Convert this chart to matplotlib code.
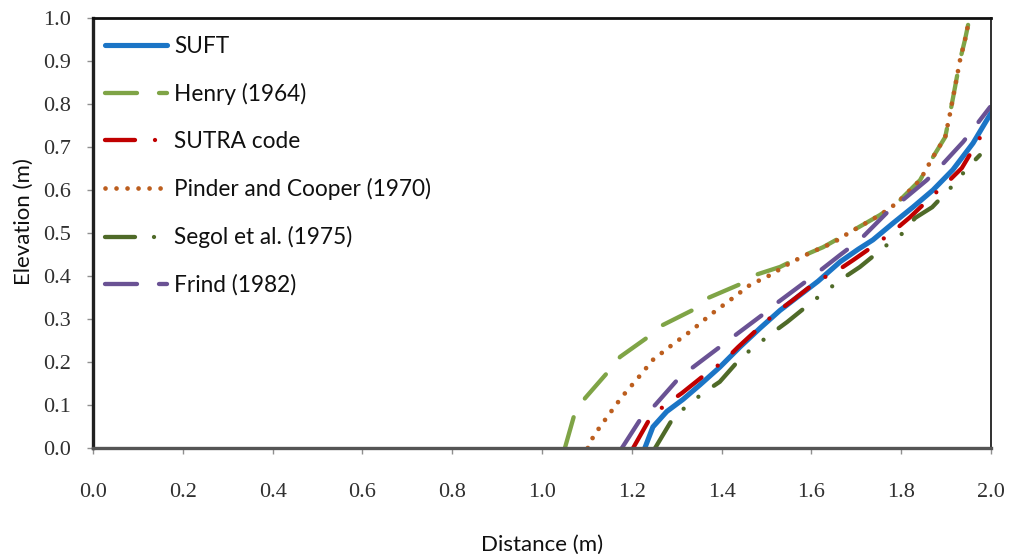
import matplotlib
matplotlib.use("Agg")
import matplotlib.pyplot as plt

# ---------------- data ----------------
suft_x = [1.229, 1.247, 1.278, 1.314, 1.352, 1.396, 1.441, 1.486, 1.530, 1.575, 1.615, 1.664,
          1.704, 1.737, 1.782, 1.826, 1.871, 1.915, 1.960, 2.000]
suft_y = [0.000, 0.049, 0.085, 0.113, 0.147, 0.188, 0.235, 0.279, 0.320, 0.356, 0.388, 0.433,
          0.462, 0.484, 0.523, 0.560, 0.600, 0.647, 0.709, 0.779]

henry_x = [1.051, 1.073, 1.096, 1.147, 1.174, 1.236, 1.269, 1.336, 1.370, 1.437, 1.474, 1.530,
           1.575, 1.626, 1.686, 1.753, 1.791, 1.842, 1.871, 1.898, 1.909, 1.920, 1.931, 1.942, 1.949]
henry_y = [0.000, 0.081, 0.116, 0.177, 0.212, 0.258, 0.286, 0.321, 0.349, 0.379, 0.402, 0.421,
           0.444, 0.467, 0.502, 0.542, 0.570, 0.623, 0.677, 0.723, 0.779, 0.840, 0.902, 0.949, 0.984]

sutra_x = [1.203, 1.241, 1.274, 1.312, 1.367, 1.403, 1.437, 1.490, 1.523, 1.559, 1.615, 1.653,
           1.693, 1.748, 1.786, 1.820, 1.871, 1.904, 1.935, 1.975]
sutra_y = [0.000, 0.070, 0.100, 0.128, 0.174, 0.200, 0.235, 0.286, 0.316, 0.344, 0.390, 0.409,
           0.437, 0.477, 0.507, 0.537, 0.588, 0.619, 0.651, 0.721]

pinder_x = [1.102, 1.114, 1.129, 1.145, 1.178, 1.214, 1.247, 1.290, 1.334, 1.374, 1.419, 1.463,
            1.508, 1.552, 1.601, 1.648, 1.686, 1.753, 1.791, 1.842, 1.871, 1.898, 1.909, 1.920,
            1.931, 1.942, 1.949]
pinder_y = [0.000, 0.026, 0.049, 0.072, 0.119, 0.163, 0.205, 0.240, 0.274, 0.309, 0.344, 0.379,
            0.402, 0.430, 0.456, 0.477, 0.502, 0.542, 0.570, 0.623, 0.677, 0.723, 0.779, 0.840,
            0.902, 0.949, 0.984]

segol_x = [1.252, 1.292, 1.325, 1.359, 1.396, 1.445, 1.479, 1.512, 1.546, 1.604, 1.641, 1.675,
           1.708, 1.768, 1.804, 1.831, 1.869, 1.920, 1.947, 1.975]
segol_y = [0.000, 0.070, 0.100, 0.128, 0.154, 0.212, 0.240, 0.267, 0.293, 0.342, 0.372, 0.398,
           0.421, 0.472, 0.500, 0.535, 0.560, 0.616, 0.651, 0.681]

frind_x = [1.178, 1.218, 1.252, 1.301, 1.334, 1.396, 1.425, 1.490, 1.523, 1.586, 1.615, 1.664,
           1.708, 1.768, 1.804, 1.857, 1.886, 1.938, 1.964, 1.998]
frind_y = [0.000, 0.065, 0.100, 0.158, 0.186, 0.235, 0.258, 0.309, 0.337, 0.386, 0.409, 0.449,
           0.484, 0.547, 0.577, 0.623, 0.653, 0.712, 0.747, 0.793]

labels = ["SUFT", "Henry (1964)", "SUTRA code", "Pinder and Cooper (1970)",
          "Segol et al. (1975)", "Frind (1982)"]
x_ticks = [0.0, 0.2, 0.4, 0.6, 0.8, 1.0, 1.2, 1.4, 1.6, 1.8, 2.0]
y_ticks = [0.0, 0.1, 0.2, 0.3, 0.4, 0.5, 0.6, 0.7, 0.8, 0.9, 1.0]

# ---------------- style ----------------
plt.rcParams['lines.scale_dashes'] = False
P = 0.72  # px -> pt

fig = plt.figure(figsize=(10.10, 5.54), dpi=100)
ax = fig.add_axes([93 / 1010, 1 - 448 / 554, 898 / 1010, 430 / 554])

common = dict(solid_capstyle='round', dash_capstyle='round', solid_joinstyle='round')
ax.plot(suft_x, suft_y, color='#1B75C6', lw=3.7, label=labels[0], **common)
ax.plot(henry_x, henry_y, color='#7FA446', lw=3.1, label=labels[1],
        dashes=(32 * P, 22 * P), **common)
ax.plot(sutra_x, sutra_y, color='#C00000', lw=3.1, label=labels[2],
        dashes=(30 * P, 20 * P, 0.01, 20 * P), **common)
ax.plot(pinder_x, pinder_y, color='#BC5E1E', lw=3.4, label=labels[3],
        dashes=(0.01, 11 * P), **common)
ax.plot(segol_x, segol_y, color='#4F6A28', lw=3.1, label=labels[4],
        dashes=(30 * P, 19 * P, 0.01, 19 * P, 0.01, 19 * P), **common)
ax.plot(frind_x, frind_y, color='#6A5294', lw=3.1, label=labels[5],
        dashes=(32 * P, 22 * P), **common)

ax.set_xlim(0, 2.0)
ax.set_ylim(0, 1.0)
ax.set_xticks(x_ticks)
ax.set_yticks(y_ticks)
ax.set_xticklabels([f"{v:.1f}" for v in x_ticks])
ax.set_yticklabels([f"{v:.1f}" for v in y_ticks])

for t in ax.get_xticklabels() + ax.get_yticklabels():
    t.set_fontfamily('Liberation Serif')
    t.set_fontsize(16)
    t.set_color('#303030')
ax.tick_params(axis='x', direction='out', length=4, width=1, color='#909090', pad=21)
ax.tick_params(axis='y', direction='out', length=4, width=1, color='#909090', pad=12)

ax.spines['left'].set_linewidth(2.4)
ax.spines['left'].set_color('#202020')
ax.spines['bottom'].set_linewidth(2.4)
ax.spines['bottom'].set_color('#555555')
ax.spines['top'].set_linewidth(2.0)
ax.spines['top'].set_color('#101010')
ax.spines['right'].set_linewidth(1.4)
ax.spines['right'].set_color('#303030')

ax.set_xlabel("Distance (m)", fontfamily='Lato', fontsize=16, labelpad=24, color='#101010')
ax.set_ylabel("Elevation (m)", fontfamily='Lato', fontsize=16, color='#101010')
ax.yaxis.set_label_coords(-0.066, 0.526)

leg = ax.legend(loc='upper left', bbox_to_anchor=(0.0134, 0.958), frameon=False,
                borderpad=0, borderaxespad=0, handlelength=2.75, handletextpad=0.3,
                labelspacing=1.15, prop=dict(family='Lato', size=16.3))
for t in leg.get_texts():
    t.set_color('#101010')

fig.savefig("out.png", dpi=100)
